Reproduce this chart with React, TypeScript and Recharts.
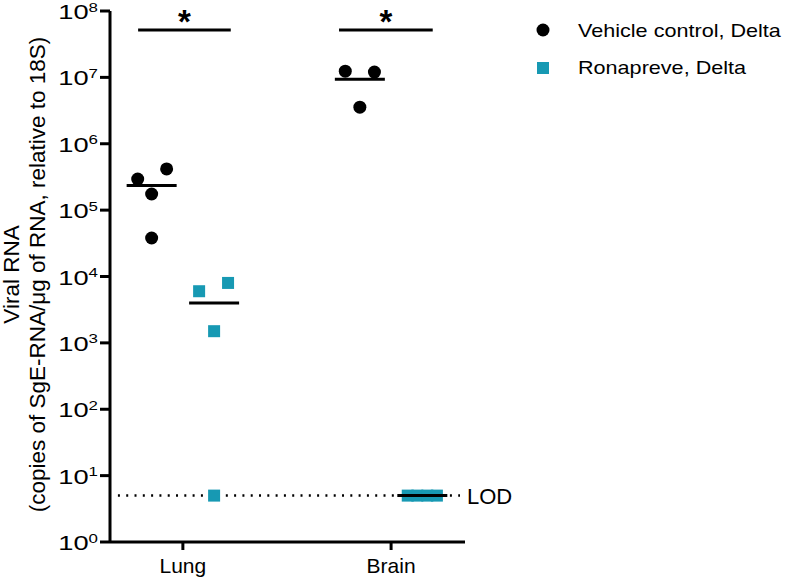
import React from "react";
import {
	ScatterChart,
	Scatter,
	XAxis,
	YAxis,
	ReferenceLine,
} from "recharts";

// groups on the x axis
const categories = ["Lung", "Brain"];
const categoryPos = [1, 2];

// values (copies / µg RNA)
const vehicleLung = [2.94e5, 4.17e5, 1.75e5, 3.8e4];
const vehicleLungJitter = [-0.067, 0.072, 0, 0];
const vehicleBrain = [1.24e7, 1.2e7, 3.56e6];
const vehicleBrainJitter = [-0.07, 0.07, 0];

const ronaLung = [6.0e3, 8.0e3, 1.5e3, 5];
const ronaLungJitter = [-0.072, 0.067, 0, 0];
const ronaBrain = [5, 5, 5, 5];
const ronaBrainJitter = [-0.07, -0.024, 0.024, 0.07];

// group means (horizontal bars)
const vehicleMeans = [2.35e5, 9.4e6];
const ronaMeans = [4.0e3, 5];

const groupOffset = 0.15;
const lodValue = 5;
const yTicks = [1, 10, 100, 1e3, 1e4, 1e5, 1e6, 1e7, 1e8];
const sigBars = [
	{ from: 0.785, to: 1.23, y: 5.17e7 },
	{ from: 1.75, to: 2.2, y: 5.17e7 },
];

const TEAL = "#1799b3";
const FONT = "'Liberation Sans', Arial, sans-serif";

const vehicleData = [
	...vehicleLung.map((v, i) => ({ x: categoryPos[0] - groupOffset + vehicleLungJitter[i], y: v })),
	...vehicleBrain.map((v, i) => ({ x: categoryPos[1] - groupOffset + vehicleBrainJitter[i], y: v })),
];
const ronaData = [
	...ronaLung.map((v, i) => ({ x: categoryPos[0] + groupOffset + ronaLungJitter[i], y: v })),
	...ronaBrain.map((v, i) => ({ x: categoryPos[1] + groupOffset + ronaBrainJitter[i], y: v })),
];
const meanData = [
	...categoryPos.map((p, i) => ({ x: p - groupOffset, y: vehicleMeans[i] })),
	...categoryPos.map((p, i) => ({ x: p + groupOffset, y: ronaMeans[i] })),
];

const Dot = (props: any) => <circle cx={props.cx} cy={props.cy} r={6.5} fill="#000" />;
const Square = (props: any) => (
	<rect x={props.cx - 6} y={props.cy - 6} width={12} height={12} fill={TEAL} />
);
const MeanBar = (props: any) => (
	<line x1={props.cx - 25} x2={props.cx + 25} y1={props.cy} y2={props.cy} stroke="#000" strokeWidth={3} />
);

const YTick = ({ x, y, payload }: any) => {
	const exp = Math.round(Math.log10(payload.value));
	return (
		<g transform={`translate(${x},${y + 8}) scale(1.3,1)`}>
			<text textAnchor="end" fontSize={21} fill="#000" fontFamily={FONT}>
				10
				<tspan dy={-7.5} fontSize={13}>
					{exp}
				</tspan>
			</text>
		</g>
	);
};

const XTick = ({ x, y, payload }: any) => {
	const idx = categoryPos.indexOf(payload.value);
	return (
		<text x={x} y={y + 21} textAnchor="middle" fontSize={21} fill="#000" fontFamily={FONT}>
			{categories[idx]}
		</text>
	);
};

const YLabel = ({ viewBox }: any) => {
	const cy = viewBox.y + viewBox.height / 2 - 2;
	return (
		<g fontFamily={FONT} fontSize={22.5} fill="#000">
			<text x={19} y={cy} textAnchor="middle" transform={`rotate(-90, 19, ${cy})`}>
				Viral RNA
			</text>
			<text x={45} y={cy} textAnchor="middle" transform={`rotate(-90, 45, ${cy})`}>
				(copies of SgE-RNA/μg of RNA, relative to 18S)
			</text>
		</g>
	);
};

const LegendBox = () => (
	<svg width={261} height={90} style={{ display: "block" }}>
		<circle cx={13} cy={30} r={6.5} fill="#000" />
		<rect x={7} y={62} width={12} height={12} fill={TEAL} />
		<g fontFamily={FONT} fontSize={18} fill="#000">
			<text transform="translate(48,37) scale(1.2,1)">Vehicle control, Delta</text>
			<text transform="translate(48,74) scale(1.2,1)">Ronapreve, Delta</text>
		</g>
	</svg>
);

export default function App() {
	return (
		<div style={{ position: "absolute", left: 0, top: 0, width: 791, height: 579, background: "#fff" }}>
			<ScatterChart width={791} height={579} margin={{ top: 11, right: 326, bottom: 0, left: 0 }}>
				<XAxis
					type="number"
					dataKey="x"
					domain={[0.65, 2.355]}
					ticks={categoryPos}
					allowDataOverflow
					height={37}
					tick={<XTick />}
					tickSize={8}
					axisLine={{ stroke: "#000", strokeWidth: 3 }}
					tickLine={{ stroke: "#000", strokeWidth: 3 }}
				/>
				<YAxis
					type="number"
					dataKey="y"
					scale="log"
					domain={[1, 1e8]}
					ticks={yTicks}
					allowDataOverflow
					width={110}
					tick={<YTick />}
					tickSize={10}
					interval={0}
					axisLine={{ stroke: "#000", strokeWidth: 3 }}
					tickLine={{ stroke: "#000", strokeWidth: 3 }}
					label={<YLabel />}
				/>
				<ReferenceLine
					segment={[
						{ x: 0.688, y: lodValue },
						{ x: 2.331, y: lodValue },
					]}
					stroke="#000"
					strokeWidth={2.5}
					strokeDasharray="2 6.3"
					label={({ viewBox }: any) => (
						<text
							x={viewBox.x + viewBox.width + 7}
							y={viewBox.y + 8}
							fontSize={22}
							fontFamily={FONT}
							fill="#000"
						>
							LOD
						</text>
					)}
				/>
				{sigBars.map((b, i) => (
					<ReferenceLine
						key={`sig${i}`}
						segment={[
							{ x: b.from, y: b.y },
							{ x: b.to, y: b.y },
						]}
						stroke="#000"
						strokeWidth={3}
						label={({ viewBox }: any) => (
							<text
								x={viewBox.x + viewBox.width / 2}
								y={viewBox.y + 3}
								textAnchor="middle"
								fontSize={33}
								fontWeight="bold"
								fontFamily={FONT}
								fill="#000"
							>
								*
							</text>
						)}
					/>
				))}
				<Scatter
					name="Vehicle control, Delta"
					data={vehicleData}
					shape={<Dot />}
					isAnimationActive={false}
				/>
				<Scatter
					name="Ronapreve, Delta"
					data={ronaData}
					shape={<Square />}
					isAnimationActive={false}
				/>
				<Scatter name="Mean" data={meanData} shape={<MeanBar />} isAnimationActive={false} />
			</ScatterChart>
			<div style={{ position: "absolute", left: 530, top: 0 }}>
				<LegendBox />
			</div>
		</div>
	);
}
